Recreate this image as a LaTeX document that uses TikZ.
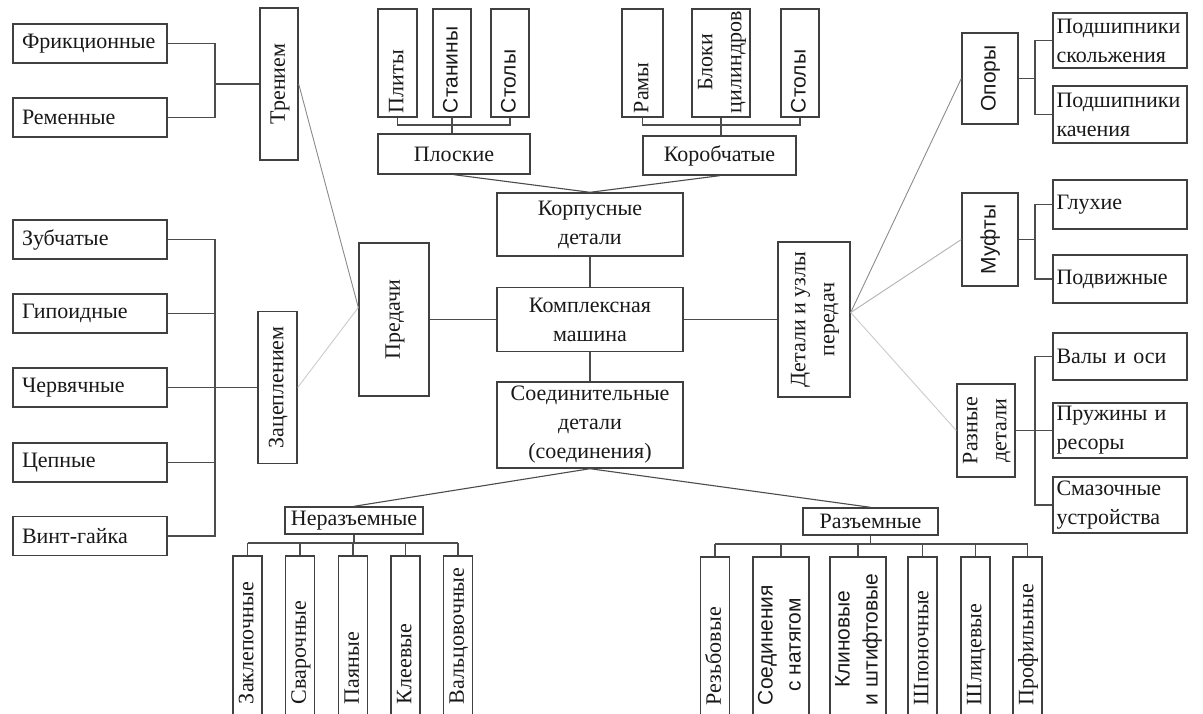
\documentclass[tikz,border=0pt]{standalone}
\usepackage{graphicx}
\usepackage{fontspec}
\setmainfont{Liberation Serif}
\setsansfont{Liberation Sans}
\usepackage{tikz}

\newcommand{\rotlabel}[1]{\rotatebox{90}{\begin{tabular}{@{}c@{}}#1\end{tabular}}}

\begin{document}
\begin{tikzpicture}[x=1pt, y=-1pt,
    every node/.style={font=\fontsize{22}{29}\selectfont, text=black!90},
    cell/.style={draw=black!75, line width=1.4pt, inner sep=2pt, align=center},
    leftbox/.style={cell, minimum height=39pt, text width=136pt, inner xsep=9pt, align=left},
    rightbox/.style={cell, minimum height=#1, text width=127pt, inner xsep=3.5pt, align=left},
    midbox/.style={cell, minimum width=186pt, minimum height=#1},
    upbox/.style args={#1/#2}{cell, minimum width=#1pt, minimum height=#2pt, inner sep=0pt},
    topcol/.style={cell, minimum width=#1, inner xsep=0pt, inner ysep=4pt, text height=100pt, text depth=0pt},
    botcol/.style={cell, minimum width=#1, inner xsep=0pt, inner ysep=4pt, text height=144pt, text depth=14pt},
    sans/.style={font=\fontsize{21}{28}\selectfont\sffamily},
    link/.style={draw=black!70, line width=1.1pt},
    faint/.style={draw=black!45, line width=0.9pt}
]
    % Page
    \fill[white] (0,0) rectangle (1203,713);
    \useasboundingbox (0,0) rectangle (1203,713);

    % Left column
    \node[leftbox] (fric) at (90,43.5) {Фрикционные};
    \node[leftbox] (rem) at (90,117.5) {Ременные};
    \node[leftbox] (zub) at (90,239.5) {Зубчатые};
    \node[leftbox] (gip) at (90,313.5) {Гипоидные};
    \node[leftbox] (cher) at (90,387.5) {Червячные};
    \node[leftbox] (cep) at (90,462.5) {Цепные};
    \node[leftbox] (vint) at (90,536) {Винт-гайка};

    \node[upbox=38/152] (tren) at (279,84) {\rotlabel{Трением}};
    \node[upbox=39/152] (zac) at (277.5,387.5) {\rotlabel{Зацеплением}};
    \node[upbox=70/153] (pered) at (394,319.5) {\rotlabel{Предачи}};

    % Centre
    \node[midbox=63pt] (korp) at (590,224.5) {Корпусные\\детали};
    \node[midbox=64pt] (kompl) at (590,319.5) {Комплексная\\машина};
    \node[midbox=86pt] (soed) at (590,425) {Соединительные\\детали\\(соединения)};
    \node[upbox=72/155] (det) at (814,319.5) {\rotlabel{Детали и узлы\\передач}};

    % Top
    \node[cell, minimum width=152pt, minimum height=40pt] (plosk) at (454,154) {Плоские};
    \node[cell, minimum width=153pt, minimum height=39pt] (korob) at (719.5,155.5) {Коробчатые};
    \node[topcol=39pt] (plity) at (397.5,63) {\rotlabel{Плиты}};
    \node[topcol=38pt, sans] (stan) at (452,63) {\rotlabel{Станины}};
    \node[topcol=38pt, sans] (stol) at (510,63) {\rotlabel{Столы}};
    \node[topcol=41pt] (ramy) at (642.5,63) {\rotlabel{Рамы}};
    \node[topcol=58pt] (blok) at (721,63) {\rotlabel{Блоки\\цилиндров}};
    \node[topcol=38pt, sans] (stolb) at (800,63) {\rotlabel{Столы}};

    % Right column
    \node[upbox=56/91, sans] (opory) at (990,78.5) {\rotlabel{Опоры}};
    \node[rightbox=55pt] (psk) at (1120,40.5) {Подшипники\\скольжения};
    \node[rightbox=57pt] (pkach) at (1120,114.5) {Подшипники\\качения};
    \node[upbox=56/93, sans] (mufty) at (990,239.5) {\rotlabel{Муфты}};
    \node[rightbox=49pt] (gluh) at (1120,204.5) {Глухие};
    \node[rightbox=48pt] (podv) at (1120,279) {Подвижные};
    \node[upbox=50/93] (razn) at (986,430.5) {\rotlabel{Разные\\детали}};
    \node[rightbox=47pt] (valy) at (1120,356.5) {Валы и оси};
    \node[rightbox=55pt] (pruzh) at (1120,430.5) {Пружины и\\ресоры};
    \node[rightbox=56pt] (smaz) at (1120,505) {Смазочные\\устройства};

    % Bottom
    \node[cell, minimum width=138pt, minimum height=27pt, inner sep=1pt] (neraz) at (354,520.5) {Неразъемные};
    \node[cell, minimum width=135pt, minimum height=27pt, inner sep=1pt] (raz) at (870.5,521.5) {Разъемные};
    \node[botcol=29pt] (zakl) at (247.5,639) {\rotlabel{Заклепочные}};
    \node[botcol=28pt] (svar) at (300,639) {\rotlabel{Сварочные}};
    \node[botcol=28pt] (payan) at (353,639) {\rotlabel{Паяные}};
    \node[botcol=27pt] (kle) at (405.5,639) {\rotlabel{Клеевые}};
    \node[botcol=28pt] (valc) at (458,639) {\rotlabel{Вальцовочные}};
    \node[botcol=28pt] (rezb) at (715,640) {\rotlabel{Резьбовые}};
    \node[botcol=52pt, sans] (natyag) at (781,640) {\rotlabel{Соединения\\с натягом}};
    \node[botcol=54pt, sans] (klin) at (858,640) {\rotlabel{Клиновые\\и штифтовые}};
    \node[botcol=27pt] (shpon) at (922.5,640) {\rotlabel{Шпоночные}};
    \node[botcol=27pt] (shlic) at (975.5,640) {\rotlabel{Шлицевые}};
    \node[botcol=29pt] (prof) at (1027.5,640) {\rotlabel{Профильные}};

    % Junctions
    \coordinate (jt) at (215,84);
    \coordinate (jz) at (215,387.5);
    \coordinate (jo) at (1035,78.5);
    \coordinate (jm) at (1035,239.5);
    \coordinate (jr) at (1035,430.5);
    \coordinate (tbar) at (0,125);
    \coordinate (nbar) at (0,543);
    \coordinate (rbar) at (0,544);

    % Left brackets
    \draw[link] (fric.east) -| (jt) |- (rem.east);
    \draw[link] (jt) -- (tren.west);
    \draw[link] (zub.east) -| (jz) |- (vint.east);
    \foreach \n in {gip,cep}
        \draw[link] (\n.east) -- (\n.east -| jz);
    \draw[link] (cher.east) -- (zac.west);

    % Centre links
    \draw[link] (korp.south) -- (kompl.north);
    \draw[link] (kompl.south) -- (soed.north);
    \draw[link] (kompl.west) -- (pered.east);
    \draw[link] (kompl.east) -- (det.west);
    \draw[link] (plosk.south) -- (korp.north);
    \draw[link] (korob.south) -- (korp.north);
    \draw[link] (soed.south) -- (neraz.north);
    \draw[link] (soed.south) -- (raz.north);

    % Top brackets
    \draw[link] (plity.south) -- (plity.south |- tbar) -- (stol.south |- tbar) -- (stol.south);
    \draw[link] (stan.south) -- (stan.south |- plosk.north);
    \draw[link] (ramy.south) -- (ramy.south |- tbar) -- (stolb.south |- tbar) -- (stolb.south);
    \draw[link] (blok.south) -- (blok.south |- korob.north);

    % Right brackets
    \draw[link] (opory.east) -- (jo);
    \draw[link] (psk.west) -| (jo) |- (pkach.west);
    \draw[link] (mufty.east) -- (jm);
    \draw[link] (gluh.west) -| (jm) |- (podv.west);
    \draw[link] (valy.west) -| (jr) |- (smaz.west);
    \draw[link] (razn.east) -- (pruzh.west);

    % Bottom brackets
    \draw[link] (neraz.south) -- (neraz.south |- nbar);
    \draw[link] (zakl.north |- nbar) -- (valc.north |- nbar);
    \foreach \n in {zakl,svar,payan,kle,valc}
        \draw[link] (\n.north) -- (\n.north |- nbar);
    \draw[link] (raz.south) -- (raz.south |- rbar);
    \draw[link] (rezb.north |- rbar) -- (prof.north |- rbar);
    \foreach \n in {rezb,natyag,klin,shpon,shlic,prof}
        \draw[link] (\n.north) -- (\n.north |- rbar);

    % Faint links
    \coordinate (pw) at ([yshift=12pt]pered.west);
    \coordinate (dw) at ([yshift=7pt]det.east);
    \draw[faint] (tren.east) -- (pw);
    \draw[faint, draw=black!20] (zac.east) -- (pw);
    \draw[faint] (opory.west) -- (dw);
    \draw[faint, draw=black!30] (mufty.west) -- (dw);
    \draw[faint, draw=black!20] (razn.west) -- (dw);
\end{tikzpicture}
\end{document}
